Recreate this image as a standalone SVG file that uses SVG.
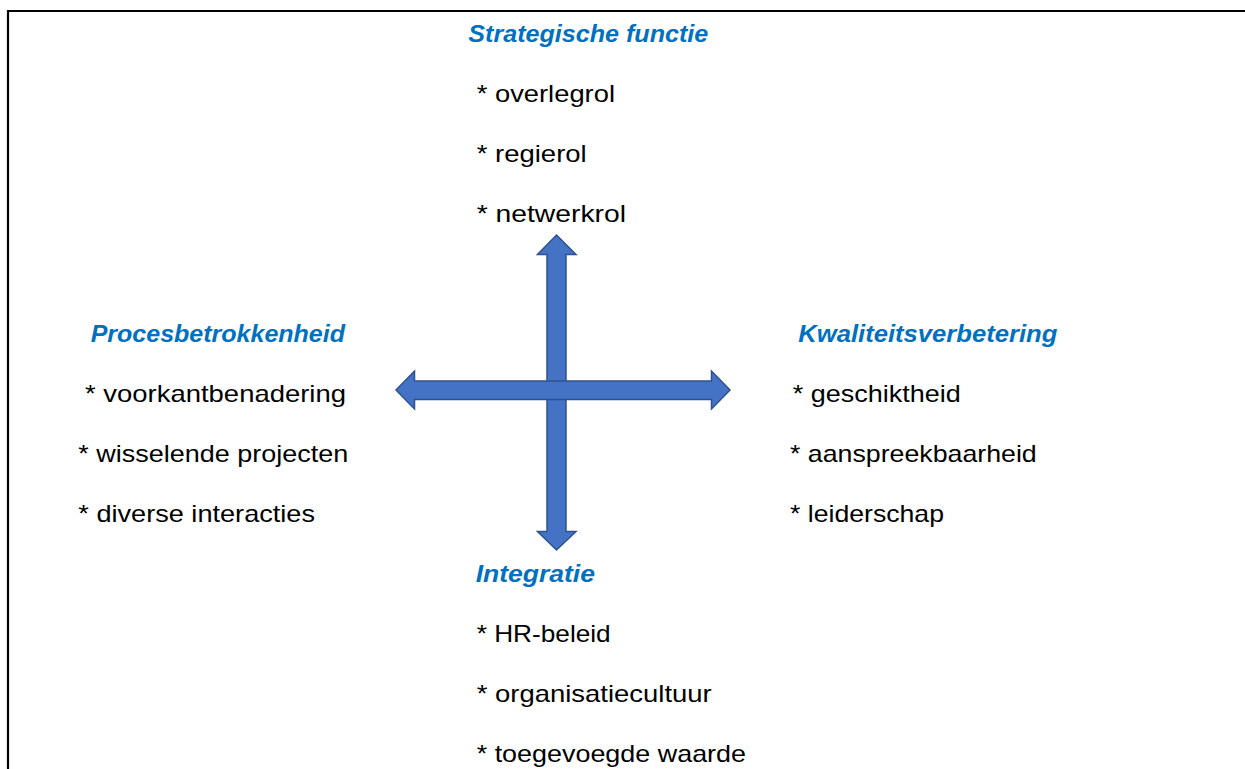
<svg xmlns="http://www.w3.org/2000/svg" width="1245" height="769" viewBox="0 0 1245 769">
<style>
.h{font-family:"Liberation Sans",Arial,sans-serif;font-size:24px;font-weight:bold;font-style:italic;fill:#0070C0}
.t{font-family:"Liberation Sans",Arial,sans-serif;font-size:24px;fill:#000}
.arr{fill:#4472C4;stroke:#2F528F;stroke-width:1.5;stroke-linejoin:miter}
</style>
<rect width="1245" height="769" fill="#fff"/>
<path d="M8,769 V11 H1245" fill="none" stroke="#000" stroke-width="2.2"/>
<g id="connectors">
<path class="arr" d="M556.5,235 L576,254.5 L566,254.5 L566,531.5 L576,531.5 L556.5,550 L537.5,531.5 L547,531.5 L547,254.5 L537.5,254.5 Z"/>
<path class="arr" d="M396,390 L414.5,371 L414.5,381 L711.5,381 L711.5,371 L730,390 L711.5,409 L711.5,399.5 L414.5,399.5 L414.5,409 Z"/>
</g>
<g id="strategische">
<text class="h" x="468.3" y="41.7" textLength="240" lengthAdjust="spacingAndGlyphs">Strategische functie</text>
<text class="t" x="476.7" y="101.7" textLength="138.3" lengthAdjust="spacingAndGlyphs">* overlegrol</text>
<text class="t" x="476.7" y="161.7" textLength="110" lengthAdjust="spacingAndGlyphs">* regierol</text>
<text class="t" x="476.7" y="221.7" textLength="149.3" lengthAdjust="spacingAndGlyphs">* netwerkrol</text>
</g>
<g id="proces">
<text class="h" x="90.7" y="341.7" textLength="254.3" lengthAdjust="spacingAndGlyphs">Procesbetrokkenheid</text>
<text class="t" x="85" y="401.7" textLength="261" lengthAdjust="spacingAndGlyphs">* voorkantbenadering</text>
<text class="t" x="78.3" y="461.7" textLength="270" lengthAdjust="spacingAndGlyphs">* wisselende projecten</text>
<text class="t" x="78.3" y="521.7" textLength="236.7" lengthAdjust="spacingAndGlyphs">* diverse interacties</text>
</g>
<g id="kwaliteit">
<text class="h" x="798.3" y="341.7" textLength="259" lengthAdjust="spacingAndGlyphs">Kwaliteitsverbetering</text>
<text class="t" x="792.7" y="401.7" textLength="168" lengthAdjust="spacingAndGlyphs">* geschiktheid</text>
<text class="t" x="790" y="461.7" textLength="246.7" lengthAdjust="spacingAndGlyphs">* aanspreekbaarheid</text>
<text class="t" x="790" y="521.7" textLength="154" lengthAdjust="spacingAndGlyphs">* leiderschap</text>
</g>
<g id="integratie">
<text class="h" x="475.7" y="581.7" textLength="119.3" lengthAdjust="spacingAndGlyphs">Integratie</text>
<text class="t" x="476.7" y="641.7" textLength="134" lengthAdjust="spacingAndGlyphs">* HR-beleid</text>
<text class="t" x="476.7" y="701.7" textLength="235" lengthAdjust="spacingAndGlyphs">* organisatiecultuur</text>
<text class="t" x="476.7" y="761.7" textLength="269.3" lengthAdjust="spacingAndGlyphs">* toegevoegde waarde</text>
</g>
</svg>
